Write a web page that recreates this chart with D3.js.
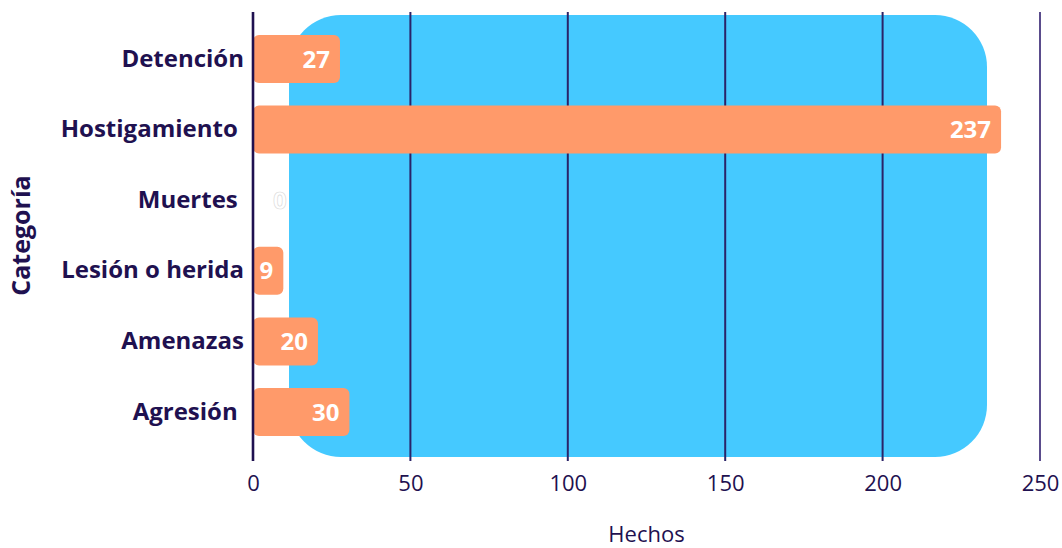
<!DOCTYPE html>
<html>
<head>
<meta charset="utf-8">
<script src="https://cdn.jsdelivr.net/npm/d3@7"></script>
<style>
  html, body { margin: 0; padding: 0; background: #ffffff; }
  svg { display: block; }
  text { font-family: "Open Sans", "Lato", sans-serif; }
</style>
</head>
<body>
<svg id="chart" width="1062" height="548"></svg>
<script>
// ---- data ----
const categories = ["Detención", "Hostigamiento ", "Muertes ", "Lesión o herida", "Amenazas", "Agresión "];
const values = [27, 237, 0, 9, 20, 30];
const xTicks = [0, 50, 100, 150, 200, 250];
const xTitle = "Hechos";
const yTitle = "Categoría";

// ---- layout ----
const navy = "#1f1150";
const orange = "#FF9A6A";
const blue = "#45C9FF";

const svg = d3.select("#chart");

const x = d3.scaleLinear().domain([0, 250]).range([253, 1040]);
const y = d3.scaleBand().domain(categories).range([35, 436]).paddingInner(0.32).paddingOuter(0);

// decorative background panel
svg.append("rect")
  .attr("x", 289).attr("y", 15)
  .attr("width", 987 - 289).attr("height", 457 - 15)
  .attr("rx", 52).attr("ry", 52)
  .attr("fill", blue);

// gridlines
svg.append("g").selectAll("line")
  .data(xTicks.filter(d => d > 0))
  .join("line")
  .attr("x1", d => x(d)).attr("x2", d => x(d))
  .attr("y1", 12).attr("y2", 461)
  .attr("stroke", d => d === 250 ? "#5a4c8c" : "#2a2368")
  .attr("stroke-width", 2);

// bars
svg.append("g").selectAll("rect")
  .data(values)
  .join("rect")
  .attr("x", x(0))
  .attr("y", (d, i) => y(categories[i]))
  .attr("width", d => Math.max(0, x(d) - x(0) + 2))
  .attr("height", y.bandwidth())
  .attr("rx", 6).attr("ry", 6)
  .attr("fill", orange)
  .attr("display", d => d > 0 ? null : "none");

// y axis line (zero line)
svg.append("line")
  .attr("x1", x(0)).attr("x2", x(0))
  .attr("y1", 12).attr("y2", 461)
  .attr("stroke", navy).attr("stroke-width", 2.6);

// value labels
svg.append("g").selectAll("text")
  .data(values)
  .join("text")
  .attr("x", d => d > 0 ? x(d) - 8 : x(0) + 20)
  .attr("y", (d, i) => y(categories[i]) + y.bandwidth() / 2)
  .attr("dy", "0.36em")
  .attr("text-anchor", d => d > 0 ? "end" : "start")
  .attr("font-size", 24)
  .attr("font-weight", 700)
  .attr("fill", "#ffffff")
  .attr("stroke", d => d > 0 ? "none" : "#d8d8d8")
  .attr("stroke-width", 0.6)
  .text(d => d);

// category labels
const yAxis = d3.axisLeft(y).tickSize(0).tickPadding(9);
const gy = svg.append("g").attr("transform", `translate(${x(0)},0)`).call(yAxis);
gy.select(".domain").remove();
gy.selectAll("text")
  .attr("font-size", 24)
  .attr("font-weight", 700)
  .attr("fill", navy)
  .attr("font-family", "'Open Sans', sans-serif")
  .style("white-space", "pre");

// x axis
const xAxis = d3.axisBottom(x).tickValues(xTicks).tickSize(0).tickPadding(0).tickFormat(d3.format("d"));
const gx = svg.append("g").attr("transform", `translate(0,475)`).call(xAxis);
gx.select(".domain").remove();
gx.selectAll("text")
  .attr("font-size", 22)
  .attr("font-weight", 400)
  .attr("fill", navy)
  .attr("font-family", "'Open Sans', sans-serif");

// axis titles
svg.append("text")
  .attr("x", (x(0) + x(250)) / 2)
  .attr("y", 542)
  .attr("text-anchor", "middle")
  .attr("font-size", 22)
  .attr("fill", navy)
  .text(xTitle);

svg.append("text")
  .attr("transform", `translate(30, ${(35 + 436) / 2}) rotate(-90)`)
  .attr("text-anchor", "middle")
  .attr("font-size", 25)
  .attr("font-weight", 700)
  .attr("fill", navy)
  .text(yTitle);
</script>
</body>
</html>
